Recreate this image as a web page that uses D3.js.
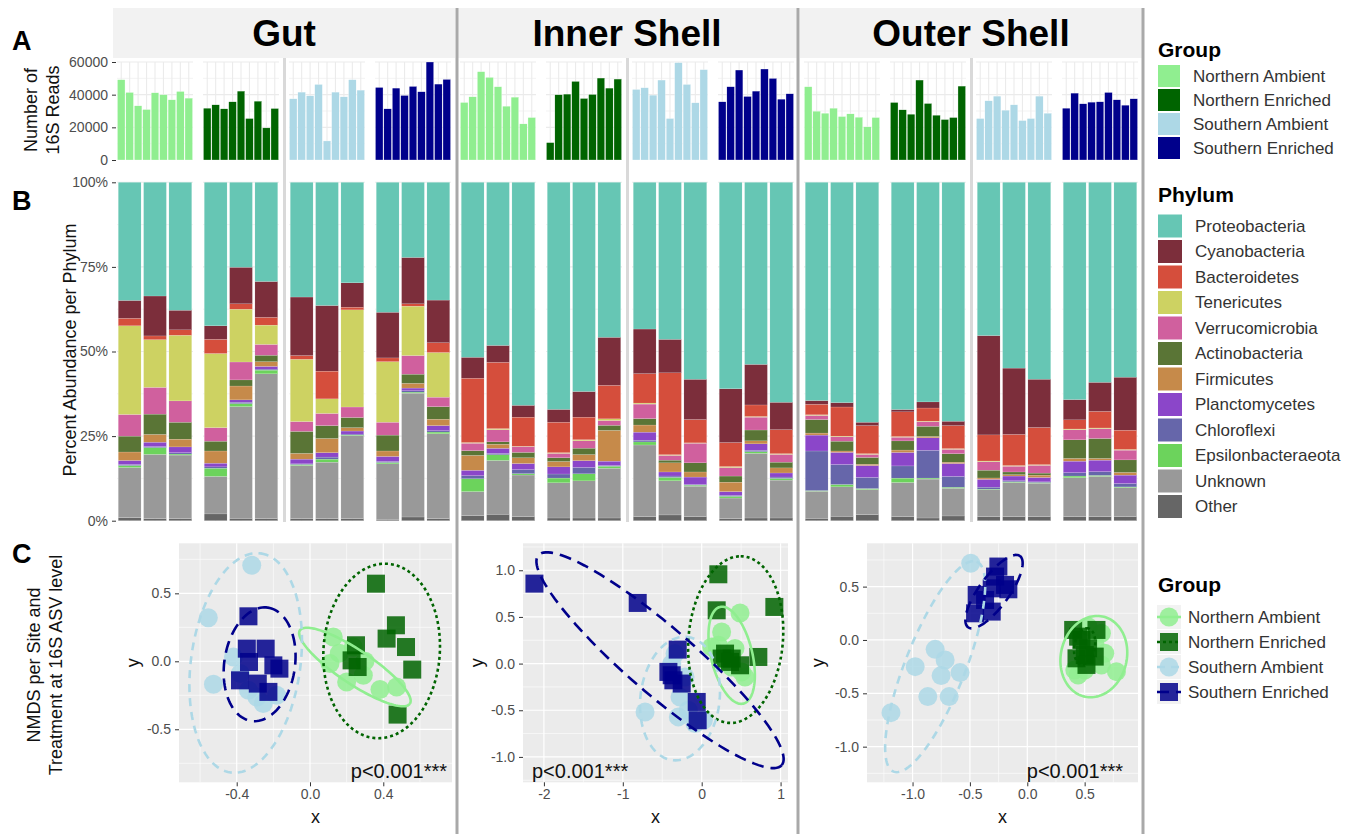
<!DOCTYPE html>
<html>
<head>
<meta charset="utf-8">
<script src="https://cdnjs.cloudflare.com/ajax/libs/d3/7.8.5/d3.min.js"></script>
<style>
  body { margin: 0; background: #fff; }
  svg { font-family: "Liberation Sans", Arial, sans-serif; }
</style>
</head>
<body>
<svg id="chart" width="1349" height="834"></svg>
<script>
"use strict"

const sites = ["Gut", "Inner Shell", "Outer Shell"]
const groups = ["Northern Ambient", "Northern Enriched", "Southern Ambient", "Southern Enriched"]
const groupColors = ["#90ee90", "#006400", "#add8e6", "#00008b"]
const groupDash = [null, "3,3", "8,6", "12,7"]

const phyla = ["Proteobacteria", "Cyanobacteria", "Bacteroidetes", "Tenericutes", "Verrucomicrobia",
  "Actinobacteria", "Firmicutes", "Planctomycetes", "Chloroflexi", "Epsilonbacteraeota", "Unknown", "Other"]
const phylumColors = ["#66c6b4", "#7c2e3b", "#d54e3c", "#cdd262", "#d0609e", "#5a7536",
  "#c68a4a", "#8b46c9", "#6666aa", "#6cd35c", "#999999", "#666666"]

const readTicks = [0, 20000, 40000, 60000]
const pctTicks = [0, 0.25, 0.5, 0.75, 1]
const pctLabels = ["0%", "25%", "50%", "75%", "100%"]

// A: number of 16S reads, 9 samples per group (NA, NE, SA, SE)
const gutReads = [
  [49150, 41370, 33180, 30920, 41160, 39940, 36860, 41980, 37890],
  [31740, 33790, 31330, 35630, 42190, 25400, 36040, 19660, 31540],
  [37480, 41570, 39320, 46280, 11670, 41570, 38700, 49150, 42800],
  [44440, 31330, 44030, 39530, 45060, 41780, 60000, 46490, 49360]
]
const innerReads = [
  [35230, 38700, 54070, 50590, 44850, 32970, 38500, 22120, 26010],
  [10650, 39940, 40350, 48130, 37680, 40140, 50180, 44030, 49560],
  [43210, 44240, 39730, 48950, 25400, 59600, 46280, 35020, 55300],
  [35640, 44850, 55090, 38910, 42190, 55710, 49970, 37270, 40550]
]
const outerReads = [
  [44850, 29900, 28670, 31740, 26620, 28260, 26210, 20280, 26010],
  [35230, 30720, 28060, 48950, 34610, 27440, 24780, 26010, 45260],
  [25400, 36250, 39120, 30520, 33790, 24170, 25400, 39120, 28670],
  [31740, 40960, 34410, 35430, 35640, 41370, 36860, 33590, 37480]
]

// B: percent abundance, one row per sample (3 per group), phyla in legend order
const gutAbund = [
  [34.9, 5.3, 2.2, 26.2, 6.4, 4.7, 2.5, 1.2, 0.3, 0.6, 14.8, 0.9],
  [33.6, 11.8, 1.1, 14.1, 7.9, 6.0, 2.3, 1.3, 0.3, 2.0, 19.0, 0.6],
  [37.8, 5.8, 1.6, 19.4, 6.3, 5.0, 2.3, 1.7, 0.4, 0.3, 18.8, 0.6],
  [42.4, 4.0, 4.2, 21.9, 4.0, 2.9, 3.6, 1.1, 0.4, 2.4, 11.1, 2.0],
  [25.1, 10.8, 1.6, 15.6, 5.3, 1.8, 4.1, 0.7, 0.4, 0.9, 33.0, 0.7],
  [29.3, 10.6, 2.3, 5.7, 3.2, 1.9, 1.4, 0.8, 0.3, 1.1, 42.8, 0.6],
  [33.9, 17.3, 1.1, 18.4, 2.9, 6.5, 1.7, 1.4, 0.2, 0.3, 15.7, 0.6],
  [36.4, 19.4, 8.2, 4.3, 3.6, 3.8, 4.2, 1.3, 0.6, 0.9, 16.7, 0.6],
  [29.7, 7.2, 0.8, 28.7, 3.1, 3.0, 1.0, 0.9, 0.3, 0.2, 24.5, 0.6],
  [38.4, 13.5, 1.1, 17.9, 3.8, 4.7, 1.6, 1.5, 0.3, 0.4, 16.4, 0.4],
  [22.2, 13.7, 0.7, 14.6, 5.5, 2.7, 1.4, 0.8, 0.4, 0.3, 36.6, 1.1],
  [34.8, 12.6, 2.9, 13.2, 2.8, 3.7, 1.9, 1.5, 0.4, 0.5, 25.1, 0.6]
]
const innerAbund = [
  [51.7, 6.2, 19.0, 0.2, 2.2, 1.4, 4.4, 1.6, 0.9, 3.8, 7.1, 1.5],
  [48.2, 5.0, 19.6, 0.3, 3.6, 0.7, 1.2, 1.5, 0.4, 1.7, 15.9, 1.9],
  [65.9, 3.5, 8.6, 0.1, 1.7, 1.6, 1.7, 1.8, 1.2, 0.4, 12.3, 1.2],
  [67.1, 3.8, 9.0, 0.2, 1.3, 1.1, 1.6, 2.1, 1.2, 1.4, 10.4, 0.8],
  [62.0, 7.6, 6.7, 0.3, 2.2, 1.9, 1.8, 2.0, 1.9, 2.1, 11.0, 0.8],
  [45.8, 14.2, 9.9, 0.5, 1.4, 1.5, 9.1, 1.3, 0.2, 0.6, 14.7, 0.8],
  [43.4, 13.2, 8.7, 0.3, 4.3, 1.9, 2.1, 2.4, 0.5, 0.9, 21.2, 1.2],
  [46.4, 9.9, 24.2, 0.2, 1.4, 0.8, 2.7, 1.2, 0.4, 1.0, 10.1, 1.7],
  [58.2, 11.9, 6.9, 0.1, 5.8, 2.7, 1.5, 2.2, 0.2, 0.3, 9.0, 1.2],
  [61.0, 15.9, 7.1, 0.3, 2.5, 1.8, 2.8, 1.1, 0.3, 0.5, 6.1, 0.6],
  [53.8, 12.0, 3.4, 0.2, 3.8, 3.2, 0.9, 1.9, 0.4, 0.5, 19.1, 0.8],
  [65.0, 8.1, 7.1, 0.2, 2.3, 1.7, 1.5, 1.2, 0.4, 0.5, 11.2, 0.8]
]
const outerAbund = [
  [64.5, 1.1, 3.1, 0.2, 1.2, 4.0, 0.6, 4.7, 11.7, 0.2, 8.0, 0.7],
  [65.1, 1.3, 8.6, 0.2, 1.3, 2.9, 0.4, 3.6, 5.9, 0.7, 8.7, 1.3],
  [70.9, 1.0, 8.3, 0.2, 0.9, 2.0, 0.4, 3.5, 3.3, 0.3, 7.4, 1.8],
  [67.2, 0.7, 7.3, 0.2, 1.1, 2.7, 0.7, 4.0, 3.6, 1.3, 10.1, 1.2],
  [64.9, 1.8, 3.9, 0.2, 1.3, 3.0, 0.4, 3.7, 8.2, 0.3, 11.5, 0.8],
  [70.6, 1.3, 6.8, 0.2, 1.3, 2.5, 0.4, 3.8, 3.2, 0.3, 8.2, 1.4],
  [45.2, 29.3, 7.7, 0.2, 2.5, 2.3, 0.4, 2.3, 0.6, 0.2, 7.9, 1.2],
  [54.9, 19.6, 9.2, 0.2, 1.7, 0.8, 0.4, 1.4, 0.3, 0.2, 10.1, 1.2],
  [58.3, 14.3, 11.0, 0.2, 2.3, 0.6, 0.7, 1.3, 0.2, 0.2, 9.9, 1.2],
  [64.2, 6.0, 2.7, 0.2, 3.0, 5.5, 0.8, 3.4, 1.0, 0.5, 11.5, 1.2],
  [59.1, 8.6, 4.9, 0.2, 2.9, 5.9, 0.5, 3.4, 1.1, 0.3, 11.9, 1.2],
  [57.7, 15.7, 5.7, 0.2, 2.9, 3.7, 0.8, 2.5, 1.0, 0.2, 8.6, 1.2]
]

// C: NMDS points per group [x, y]
const gutNmds = [
  [[0.127, 0.179], [0.236, 0.105], [0.109, -0.017], [0.2, -0.152], [0.291, -0.103], [0.382, -0.208], [0.473, -0.189], [0.16, 0.06], [0.3, 0.0]],
  [[0.36, 0.571], [0.469, 0.265], [0.418, 0.167], [0.524, 0.105], [0.558, -0.061], [0.478, -0.392], [0.251, 0.118], [0.227, 0.007], [0.26, -0.042]],
  [[-0.318, 0.706], [-0.555, 0.321], [-0.418, 0.032], [-0.527, -0.169], [-0.336, -0.213], [-0.255, -0.311], [-0.182, -0.25], [-0.29, -0.262], [-0.38, -0.09]],
  [[-0.336, 0.331], [-0.345, 0.093], [-0.242, 0.093], [-0.333, -0.005], [-0.167, -0.054], [-0.382, -0.14], [-0.285, -0.164], [-0.227, -0.225], [-0.2, -0.03]]
]
const innerNmds = [
  [[0.486, 0.543], [0.253, 0.339], [0.211, 0.196], [0.422, 0.161], [0.296, 0.036], [0.507, -0.089], [0.549, -0.143], [0.38, -0.036], [0.127, 0.179]],
  [[0.211, 0.957], [0.19, 0.571], [0.921, 0.607], [0.718, 0.071], [0.296, 0.107], [0.38, 0.054], [0.486, -0.018], [0.253, 0.054], [0.359, 0.018]],
  [[-0.718, -0.518], [-0.338, 0.107], [-0.275, -0.357], [-0.296, -0.571], [0.021, -0.607], [-0.211, -0.143], [-0.38, 0], [-0.169, -0.5], [-0.085, -0.643]],
  [[-2.12, 0.857], [-0.811, 0.65], [-0.304, 0.15], [-0.422, -0.089], [-0.359, -0.179], [-0.253, -0.214], [-0.063, -0.411], [-0.051, -0.607], [-0.38, -0.125]]
]
const outerNmds = [
  [[0.414, -0.281], [0.501, -0.281], [0.646, -0.234], [0.675, -0.125], [0.777, -0.297], [0.443, -0.328], [0.588, -0.031], [0.646, 0.063], [0.53, 0.125]],
  [[0.4, 0.094], [0.603, 0.094], [0.472, 0], [0.53, -0.078], [0.429, -0.172], [0.501, -0.141], [0.588, -0.156], [0.516, -0.234], [0.443, 0.031]],
  [[-0.493, 0.719], [-0.803, -0.088], [-0.716, -0.188], [-0.977, -0.25], [-0.751, -0.334], [-0.586, -0.306], [-0.867, -0.531], [-0.681, -0.531], [-1.188, -0.681]],
  [[-0.252, 0.688], [-0.165, 0.475], [-0.31, 0.484], [-0.441, 0.422], [-0.455, 0.25], [-0.31, 0.266], [-0.194, 0.516], [-0.368, 0.375], [-0.281, 0.594]]
]

// 95% ellipses: [cx, cy, ax, ay, bx, by] (centre + two semi-axis vectors)
const gutEllipses = [
  [0.245, -0.042, 0.3, -0.27, -0.051, -0.103],
  [0.391, 0.076, 0.018, 0.642, 0.318, 0],
  [-0.351, -0.012, 0.082, 0.806, 0.296, -0.054],
  [-0.275, -0.022, 0.045, 0.417, 0.191, -0.037]
]
const innerEllipses = [
  [0.38, 0.089, -0.148, 0.518, 0.254, 0.054],
  [0.431, 0.257, 0.063, 0.893, 0.6, 0],
  [-0.275, -0.375, 0.084, 0.661, 0.5, -0.036],
  [-0.528, 0.036, 1.542, -1.125, -0.279, -0.268]
]
const outerEllipses = [
  [0.58, -0.156, 0.029, 0.381, 0.29, 0],
  [0.5, -0.06, 0.02, 0.17, 0.09, 0],
  [-0.803, -0.25, 0.362, 0.984, 0.243, -0.103],
  [-0.29, 0.453, 0.226, 0.334, 0.106, -0.083]
]

const svg = d3.select("#chart")
const siteX = [117, 460, 804]
const panelW = 76
const panelOff = [0, 86, 172, 258]
const tickCol = "#4d4d4d", gridCol = "#ebebeb"

let readsBySite = [gutReads, innerReads, outerReads]
let abundBySite = [gutAbund, innerAbund, outerAbund]
let nmdsBySite = [gutNmds, innerNmds, outerNmds]
let ellBySite = [gutEllipses, innerEllipses, outerEllipses]

// A and B scales
let yReads = d3.scaleLinear().domain([0, 60000]).range([160, 62])
let yPct = d3.scaleLinear().domain([0, 1]).range([520.7, 182.3])
let stack = d3.stack().keys(phyla.slice().reverse())

sites.forEach((site, si) => {
    let ox = siteX[si]

    // strip header
    svg.append("rect").attr("x", ox - 4).attr("y", 8).attr("width", 342).attr("height", 50).attr("fill", "#f2f2f2")
    svg.append("text").attr("x", ox + 167).attr("y", 46).attr("text-anchor", "middle")
        .attr("font-size", 37).attr("font-weight", "bold").text(site)

    // light separator between northern and southern panels
    svg.append("line").attr("x1", ox + 167.5).attr("x2", ox + 167.5).attr("y1", 58).attr("y2", 522)
        .attr("stroke", "#d9d9d9").attr("stroke-width", 3)

    groups.forEach((grp, gi) => {
        let px = ox + panelOff[gi]

        // A: reads
        let xa = d3.scaleBand().domain(d3.range(9)).range([px, px + panelW]).paddingInner(0.1).paddingOuter(0.05)
        let ga = svg.append("g")
        d3.range(10000, 60001, 10000).forEach(v => {
            ga.append("line").attr("x1", px).attr("x2", px + panelW).attr("y1", yReads(v)).attr("y2", yReads(v))
                .attr("stroke", gridCol).attr("stroke-width", v % 20000 ? 0.6 : 1.1)
        })
        d3.range(9).forEach(i => {
            ga.append("line").attr("x1", xa(i) + xa.bandwidth() / 2).attr("x2", xa(i) + xa.bandwidth() / 2)
                .attr("y1", yReads(60000)).attr("y2", yReads(0)).attr("stroke", gridCol).attr("stroke-width", 1.1)
        })
        ga.selectAll("rect.bar").data(readsBySite[si][gi]).enter().append("rect")
            .attr("x", (d, i) => xa(i)).attr("width", xa.bandwidth())
            .attr("y", d => yReads(d)).attr("height", d => yReads(0) - yReads(d))
            .attr("fill", groupColors[gi]).attr("stroke", "#ffffff").attr("stroke-width", 0.3)

        // B: phylum abundance
        let rows = abundBySite[si].slice(gi * 3, gi * 3 + 3).map(r => {
            let s = d3.sum(r), o = {}
            phyla.forEach((p, k) => o[p] = r[k] / s)
            return o
        })
        let xb = d3.scaleBand().domain(d3.range(3)).range([px, px + panelW]).paddingInner(0.1).paddingOuter(0.05)
        let gb = svg.append("g")
        d3.range(0.125, 1.001, 0.125).forEach(v => {
            gb.append("line").attr("x1", px).attr("x2", px + panelW).attr("y1", yPct(v)).attr("y2", yPct(v))
                .attr("stroke", gridCol).attr("stroke-width", Math.abs(v * 4 - Math.round(v * 4)) < 1e-6 ? 1.1 : 0.6)
        })
        d3.range(3).forEach(i => {
            gb.append("line").attr("x1", xb(i) + xb.bandwidth() / 2).attr("x2", xb(i) + xb.bandwidth() / 2)
                .attr("y1", yPct(1)).attr("y2", yPct(0)).attr("stroke", gridCol).attr("stroke-width", 1.1)
        })
        let series = stack(rows)
        gb.selectAll("g.layer").data(series).enter().append("g")
            .attr("fill", d => phylumColors[phyla.indexOf(d.key)])
            .selectAll("rect").data(d => d).enter().append("rect")
            .attr("x", (d, i) => xb(i)).attr("width", xb.bandwidth())
            .attr("y", d => yPct(d[1])).attr("height", d => Math.max(0, yPct(d[0]) - yPct(d[1])))
            .attr("stroke", "#ffffff").attr("stroke-width", 0.25).attr("stroke-opacity", 0.6)
    })
})

// A / B y axes (left side only)
let axA = svg.append("g").attr("transform", "translate(116,0)")
    .call(d3.axisLeft(yReads).tickValues(readTicks).tickSize(4).tickPadding(4).tickFormat(d3.format("d")))
let axB = svg.append("g").attr("transform", "translate(116,0)")
    .call(d3.axisLeft(yPct).tickValues(pctTicks).tickSize(4).tickPadding(4).tickFormat((d, i) => pctLabels[i]))
;[axA, axB].forEach(ax => {
    ax.select(".domain").remove()
    ax.selectAll("text").attr("font-size", 14).attr("fill", tickCol).attr("font-family", null)
    ax.selectAll("line").attr("stroke", "#333")
})

// C: NMDS panels
const nmdsPanels = [
    { x0: 179, x1: 452, xd: [-0.715, 0.775], yd: [-0.89, 0.868], xt: [-0.4, 0, 0.4], xm: [-0.6, -0.2, 0.2, 0.6],
      yt: [-0.5, 0, 0.5], ym: [-0.75, -0.25, 0.25, 0.75], xf: d3.format(".1f"), yf: d3.format(".1f"), yl: 133, px: 447, anchor: "end" },
    { x0: 523, x1: 788, xd: [-2.265, 1.094], yd: [-1.272, 1.289], xt: [-2, -1, 0, 1], xm: [-1.5, -0.5, 0.5],
      yt: [-1, -0.5, 0, 0.5, 1], ym: [-1.25, -0.75, -0.25, 0.25, 0.75, 1.25], xf: d3.format("d"), yf: d3.format(".1f"), yl: 477, px: 532, anchor: "start" },
    { x0: 867, x1: 1138, xd: [-1.397, 0.965], yd: [-1.334, 0.906], xt: [-1, -0.5, 0, 0.5], xm: [-1.25, -0.75, -0.25, 0.25, 0.75],
      yt: [-1, -0.5, 0, 0.5], ym: [-1.25, -0.75, -0.25, 0.25, 0.75], xf: d3.format(".1f"), yf: d3.format(".1f"), yl: 818, px: 1123, anchor: "end" }
]
const cTop = 543.3, cBot = 782.3
let minus = s => s.replace("\u2212", "-")

nmdsPanels.forEach((p, si) => {
    let x = d3.scaleLinear().domain(p.xd).range([p.x0, p.x1])
    let y = d3.scaleLinear().domain(p.yd).range([cBot, cTop])
    let g = svg.append("g")
    g.append("rect").attr("x", p.x0).attr("y", cTop).attr("width", p.x1 - p.x0).attr("height", cBot - cTop).attr("fill", "#ebebeb")
    p.xm.forEach(v => g.append("line").attr("x1", x(v)).attr("x2", x(v)).attr("y1", cTop).attr("y2", cBot).attr("stroke", "#fff").attr("stroke-width", 0.6))
    p.ym.forEach(v => g.append("line").attr("y1", y(v)).attr("y2", y(v)).attr("x1", p.x0).attr("x2", p.x1).attr("stroke", "#fff").attr("stroke-width", 0.6))
    p.xt.forEach(v => g.append("line").attr("x1", x(v)).attr("x2", x(v)).attr("y1", cTop).attr("y2", cBot).attr("stroke", "#fff").attr("stroke-width", 1.2))
    p.yt.forEach(v => g.append("line").attr("y1", y(v)).attr("y2", y(v)).attr("x1", p.x0).attr("x2", p.x1).attr("stroke", "#fff").attr("stroke-width", 1.2))

    let clipId = "clip" + si
    svg.append("clipPath").attr("id", clipId).append("rect")
        .attr("x", p.x0).attr("y", cTop).attr("width", p.x1 - p.x0).attr("height", cBot - cTop)
    let gp = g.append("g").attr("clip-path", "url(#" + clipId + ")")

    nmdsBySite[si].forEach((pts, gi) => {
        if (gi % 2 === 0) {
            gp.selectAll(null).data(pts).enter().append("circle")
                .attr("cx", d => x(d[0])).attr("cy", d => y(d[1])).attr("r", 9.5)
                .attr("fill", groupColors[gi]).attr("fill-opacity", 0.85)
        } else {
            gp.selectAll(null).data(pts).enter().append("rect")
                .attr("x", d => x(d[0]) - 9).attr("y", d => y(d[1]) - 9).attr("width", 18).attr("height", 18)
                .attr("fill", groupColors[gi]).attr("fill-opacity", 0.85)
        }
    })

    let line = d3.line()
    ellBySite[si].forEach((e, gi) => {
        let pts = d3.range(0, 121).map(i => {
            let t = i / 120 * 2 * Math.PI
            return [x(e[0] + e[2] * Math.cos(t) + e[4] * Math.sin(t)), y(e[1] + e[3] * Math.cos(t) + e[5] * Math.sin(t))]
        })
        gp.append("path").attr("d", line(pts)).attr("fill", "none")
            .attr("stroke", groupColors[gi]).attr("stroke-width", 2.6)
            .attr("stroke-dasharray", groupDash[gi])
    })

    let ax = g.append("g").attr("transform", "translate(0," + cBot + ")")
        .call(d3.axisBottom(x).tickValues(p.xt).tickSize(4).tickPadding(3).tickFormat(d => minus(p.xf(d))))
    let ay = g.append("g").attr("transform", "translate(" + p.x0 + ",0)")
        .call(d3.axisLeft(y).tickValues(p.yt).tickSize(4).tickPadding(4).tickFormat(d => minus(p.yf(d))))
    ;[ax, ay].forEach(a => {
        a.select(".domain").remove()
        a.selectAll("text").attr("font-size", 14).attr("fill", tickCol).attr("font-family", null)
        a.selectAll("line").attr("stroke", "#333")
    })
    g.append("text").attr("x", (p.x0 + p.x1) / 2).attr("y", 823).attr("text-anchor", "middle")
        .attr("font-size", 18).attr("fill", "#111").text("x")
    g.append("text").attr("transform", "translate(" + (p.yl + 6) + "," + ((cTop + cBot) / 2) + ") rotate(-90)")
        .attr("text-anchor", "middle").attr("font-size", 18).attr("fill", "#111").text("y")
    g.append("text").attr("x", p.px).attr("y", 778).attr("text-anchor", p.anchor)
        .attr("font-size", 20).attr("fill", "#111").text("p<0.001***")
})

// site separators
;[457, 798, 1143].forEach(xv => {
    svg.append("line").attr("x1", xv).attr("x2", xv).attr("y1", 8).attr("y2", 834)
        .attr("stroke", "#a9a9a9").attr("stroke-width", 3)
})

// panel letters and row titles
;[["A", 50], ["B", 210], ["C", 563]].forEach(d => {
    svg.append("text").attr("x", 12).attr("y", d[1]).attr("font-size", 27).attr("font-weight", "bold").text(d[0])
})
function vtitle(lines, cx, cy, gap) {
    let t = svg.append("text").attr("transform", "translate(" + cx + "," + cy + ") rotate(-90)")
        .attr("text-anchor", "middle").attr("font-size", 18).attr("fill", "#111")
    lines.forEach((l, i) => t.append("tspan").attr("x", 0).attr("y", i * gap).text(l))
}
vtitle(["Number of", "16S Reads"], 37, 110, 22)
vtitle(["Percent Abundance per Phylum"], 76, 350, 0)
vtitle(["NMDS per Site and", "Treatment at 16S ASV level"], 40, 665, 22)

// legends
let lg = svg.append("g")
lg.append("text").attr("x", 1158).attr("y", 57).attr("font-size", 21).attr("font-weight", "bold").text("Group")
groups.forEach((grp, i) => {
    let cy = 76 + i * 24
    lg.append("rect").attr("x", 1158).attr("y", cy - 11).attr("width", 22).attr("height", 22).attr("fill", groupColors[i])
    lg.append("text").attr("x", 1193).attr("y", cy).attr("dy", "0.35em").attr("font-size", 17).attr("fill", "#333").text(grp)
})
lg.append("text").attr("x", 1158).attr("y", 202).attr("font-size", 21).attr("font-weight", "bold").text("Phylum")
phyla.forEach((ph, i) => {
    let cy = 226 + i * 25.5
    lg.append("rect").attr("x", 1158).attr("y", cy - 11.5).attr("width", 24).attr("height", 23).attr("fill", phylumColors[i])
    lg.append("text").attr("x", 1195).attr("y", cy).attr("dy", "0.35em").attr("font-size", 17).attr("fill", "#333").text(ph)
})
lg.append("text").attr("x", 1158).attr("y", 592).attr("font-size", 21).attr("font-weight", "bold").text("Group")
groups.forEach((grp, i) => {
    let cy = 617 + i * 25
    lg.append("rect").attr("x", 1157).attr("y", cy - 12).attr("width", 24).attr("height", 24).attr("fill", "#f2f2f2")
    lg.append("line").attr("x1", 1157).attr("x2", 1181).attr("y1", cy).attr("y2", cy)
        .attr("stroke", groupColors[i]).attr("stroke-width", 2.6).attr("stroke-dasharray", groupDash[i])
    if (i % 2 === 0) {
        lg.append("circle").attr("cx", 1169).attr("cy", cy).attr("r", 9.5).attr("fill", groupColors[i]).attr("fill-opacity", 0.85)
    } else {
        lg.append("rect").attr("x", 1160).attr("y", cy - 9).attr("width", 18).attr("height", 18).attr("fill", groupColors[i]).attr("fill-opacity", 0.85)
    }
    lg.append("text").attr("x", 1188).attr("y", cy).attr("dy", "0.35em").attr("font-size", 17).attr("fill", "#333").text(grp)
})
</script>
</body>
</html>
